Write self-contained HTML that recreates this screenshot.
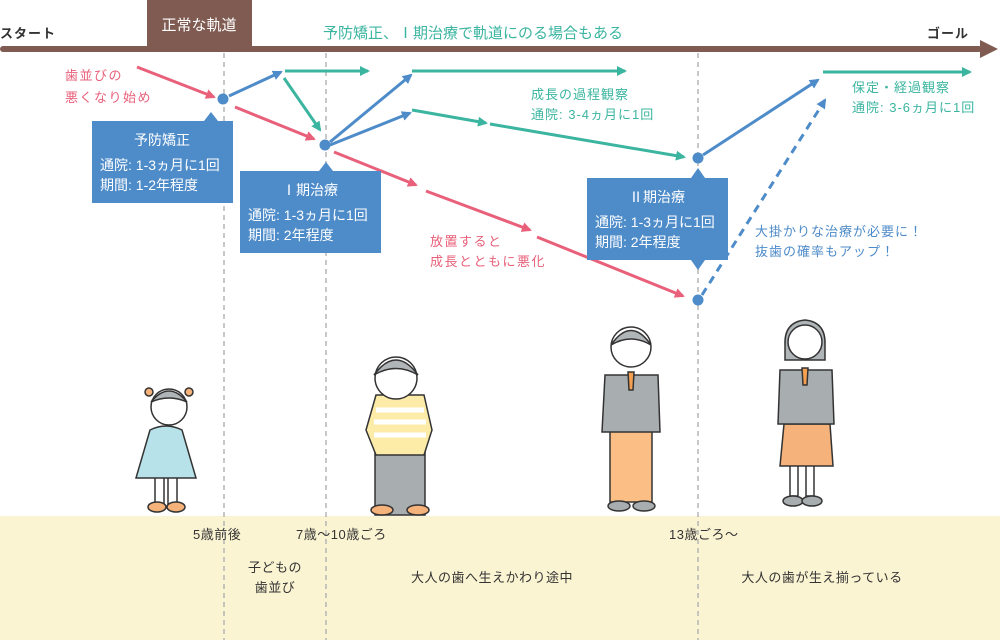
<!DOCTYPE html>
<html><head><meta charset="utf-8"><style>
body{margin:0;width:1000px;height:640px;overflow:hidden;background:#fff}
svg{display:block}
text{font-family:"Liberation Sans","Noto Sans CJK JP",sans-serif}
</style></head><body>
<svg width="1000" height="640" viewBox="0 0 1000 640" xmlns="http://www.w3.org/2000/svg">
<defs>
<marker id="ap" markerWidth="10" markerHeight="10" refX="8" refY="5" orient="auto" markerUnits="userSpaceOnUse"><path d="M0,0 L10,5 L0,10 Z" fill="#e8607a"/></marker>
<marker id="ab" markerWidth="10" markerHeight="10" refX="8" refY="5" orient="auto" markerUnits="userSpaceOnUse"><path d="M0,0 L10,5 L0,10 Z" fill="#4d8bc9"/></marker>
<marker id="at" markerWidth="10" markerHeight="10" refX="8" refY="5" orient="auto" markerUnits="userSpaceOnUse"><path d="M0,0 L10,5 L0,10 Z" fill="#3bb5a0"/></marker>
</defs>
<rect x="0" y="516" width="1000" height="124" fill="#fbf4d3"/>
<g stroke="#b5b5b5" stroke-width="1.5" stroke-dasharray="5,4">
<line x1="224" y1="53" x2="224" y2="640"/><line x1="326" y1="53" x2="326" y2="640"/><line x1="698" y1="53" x2="698" y2="640"/>
</g>
<rect x="147" y="0" width="105" height="47" fill="#7f5b52"/>
<text x="199" y="30" font-size="15" fill="#fff" text-anchor="middle">正常な軌道</text>
<rect x="0" y="46" width="982" height="6" rx="3" fill="#7f5b52"/>
<path d="M980,40 L998,49 L980,58 Z" fill="#7f5b52"/>
<text x="0" y="38" font-size="13" fill="#333" font-weight="bold" letter-spacing="1">スタート</text>
<text x="927" y="38" font-size="13" fill="#333" font-weight="bold" letter-spacing="1">ゴール</text>
<text x="323" y="38" font-size="15" fill="#3bb5a0">予防矯正、Ⅰ期治療で軌道にのる場合もある</text>
<g stroke-width="3" fill="none">
<line x1="137" y1="67" x2="214" y2="97" stroke="#e8607a" marker-end="url(#ap)"/>
<line x1="235" y1="107" x2="314" y2="139" stroke="#e8607a" marker-end="url(#ap)"/>
<line x1="334" y1="152" x2="416" y2="185" stroke="#e8607a" marker-end="url(#ap)"/>
<line x1="426" y1="191" x2="530" y2="230" stroke="#e8607a" marker-end="url(#ap)"/>
<line x1="537" y1="237" x2="683" y2="296" stroke="#e8607a" marker-end="url(#ap)"/>
<line x1="229" y1="96" x2="281" y2="72" stroke="#4d8bc9" marker-end="url(#ab)"/>
<line x1="330" y1="142" x2="411" y2="75" stroke="#4d8bc9" marker-end="url(#ab)"/>
<line x1="330" y1="145" x2="410" y2="113" stroke="#4d8bc9" marker-end="url(#ab)"/>
<line x1="703" y1="155" x2="818" y2="80" stroke="#4d8bc9" marker-end="url(#ab)"/>
<line x1="702" y1="295" x2="825" y2="100" stroke="#4d8bc9" stroke-dasharray="8,6" marker-end="url(#ab)"/>
<line x1="285" y1="71" x2="368" y2="71" stroke="#3bb5a0" marker-end="url(#at)"/>
<line x1="284" y1="78" x2="320" y2="130" stroke="#3bb5a0" marker-end="url(#at)"/>
<line x1="412" y1="71" x2="625" y2="71" stroke="#3bb5a0" marker-end="url(#at)"/>
<line x1="412" y1="110" x2="486" y2="123" stroke="#3bb5a0" marker-end="url(#at)"/>
<line x1="490" y1="124" x2="684" y2="157" stroke="#3bb5a0" marker-end="url(#at)"/>
<line x1="823" y1="72" x2="970" y2="72" stroke="#3bb5a0" marker-end="url(#at)"/>
</g>
<g fill="#4d8bc9">
<circle cx="223" cy="99" r="5.5"/><circle cx="325" cy="145" r="5.5"/><circle cx="698" cy="158" r="5.5"/><circle cx="698" cy="300" r="5.5"/>
<rect x="92" y="121" width="141" height="82"/><path d="M204,121 L211,112 L218,121Z"/>
<rect x="240" y="171" width="141" height="82"/><path d="M319,171 L326,162 L333,171Z"/>
<rect x="587" y="178" width="141" height="82"/><path d="M691,178 L698,168 L705,178Z M691,260 L698,270 L705,260Z"/>
</g>
<g fill="#fff" font-size="14">
<text x="162" y="145" text-anchor="middle">予防矯正</text>
<text x="100" y="170">通院: 1-3ヵ月に1回</text>
<text x="100" y="190">期間: 1-2年程度</text>
<text x="310" y="195" text-anchor="middle">Ⅰ期治療</text>
<text x="248" y="220">通院: 1-3ヵ月に1回</text>
<text x="248" y="240">期間: 2年程度</text>
<text x="657" y="202" text-anchor="middle">Ⅱ期治療</text>
<text x="595" y="227">通院: 1-3ヵ月に1回</text>
<text x="595" y="247">期間: 2年程度</text>
</g>
<g fill="#e8607a" font-size="13" letter-spacing="1.5">
<text x="65" y="80">歯並びの</text><text x="65" y="102">悪くなり始め</text>
<text x="430" y="246">放置すると</text><text x="430" y="266">成長とともに悪化</text>
</g>
<g fill="#3bb5a0" font-size="13" letter-spacing="1">
<text x="531" y="99">成長の過程観察</text><text x="531" y="119">通院: 3-4ヵ月に1回</text>
<text x="852" y="92">保定・経過観察</text><text x="852" y="112">通院: 3-6ヵ月に1回</text>
</g>
<g fill="#4d8bc9" font-size="13" letter-spacing="1">
<text x="755" y="236">大掛かりな治療が必要に！</text><text x="755" y="256">抜歯の確率もアップ！</text>
</g>
<g fill="#333" font-size="13" letter-spacing="0.5">
<text x="193" y="539">5歳前後</text>
<text x="296" y="539">7歳〜10歳ごろ</text>
<text x="669" y="539">13歳ごろ〜</text>
<text x="275" y="572" text-anchor="middle">子どもの</text>
<text x="275" y="592" text-anchor="middle">歯並び</text>
<text x="492" y="582" text-anchor="middle">大人の歯へ生えかわり途中</text>
<text x="822" y="582" text-anchor="middle">大人の歯が生え揃っている</text>
</g>
<g stroke="#333" stroke-width="1.5">
<rect x="155" y="475" width="9" height="30" fill="#fff"/><rect x="168" y="475" width="9" height="30" fill="#fff"/>
<ellipse cx="157" cy="507" rx="9" ry="5" fill="#f5b27a"/><ellipse cx="176" cy="507" rx="9" ry="5" fill="#f5b27a"/>
<path d="M150,430 Q166,422 182,430 L196,478 L136,478 Z" fill="#b8e2ea"/>
<circle cx="169" cy="407" r="18" fill="#fff"/>
<path d="M151,402 Q169,380 187,402 Q169,394 151,402Z" fill="#b0b5b8"/>
<circle cx="149" cy="392" r="4" fill="#f5b27a"/><circle cx="189" cy="392" r="4" fill="#f5b27a"/>
<rect x="375" y="450" width="50" height="65" fill="#a8adb0"/>
<ellipse cx="382" cy="510" rx="11" ry="5" fill="#f5b27a"/><ellipse cx="418" cy="510" rx="11" ry="5" fill="#f5b27a"/>
<path d="M376,395 L424,395 L432,430 L424,455 L376,455 L366,430 Z" fill="#fdeba8"/>
<path d="M376,410H424M374,422H426M374,435H426" stroke="#fff" stroke-width="5"/>
<circle cx="396" cy="378" r="21" fill="#fff"/>
<path d="M374,375 Q396,345 418,375 Q396,362 374,375Z" fill="#b0b5b8"/>
<rect x="610" y="430" width="42" height="72" fill="#fbbf85"/>
<ellipse cx="619" cy="506" rx="11" ry="5" fill="#a8adb0"/><ellipse cx="644" cy="506" rx="11" ry="5" fill="#a8adb0"/>
<path d="M605,375 L658,375 L660,432 L602,432 Z" fill="#a8adb0"/>
<circle cx="631" cy="347" r="20" fill="#fff"/>
<path d="M611,345 Q631,316 651,345 Q631,333 611,345Z" fill="#b0b5b8"/>
<path d="M628,372 L634,372 L633,390 L629,390Z" fill="#f5a050"/>
<rect x="790" y="460" width="8" height="36" fill="#fff"/><rect x="806" y="460" width="8" height="36" fill="#fff"/>
<ellipse cx="793" cy="501" rx="10" ry="5" fill="#a8adb0"/><ellipse cx="812" cy="501" rx="10" ry="5" fill="#a8adb0"/>
<path d="M784,424 L830,424 L833,466 L780,466 Z" fill="#f5b27a"/>
<path d="M780,370 L832,370 L834,424 L778,424 Z" fill="#a8adb0"/>
<path d="M785,345 Q784,322 805,320 Q826,322 825,345 L825,360 L785,360Z" fill="#b0b5b8"/>
<circle cx="805" cy="342" r="17" fill="#fff"/>
<path d="M802,368 L808,368 L807,385 L803,385Z" fill="#f5a050"/>
</g>
</svg>
</body></html>
